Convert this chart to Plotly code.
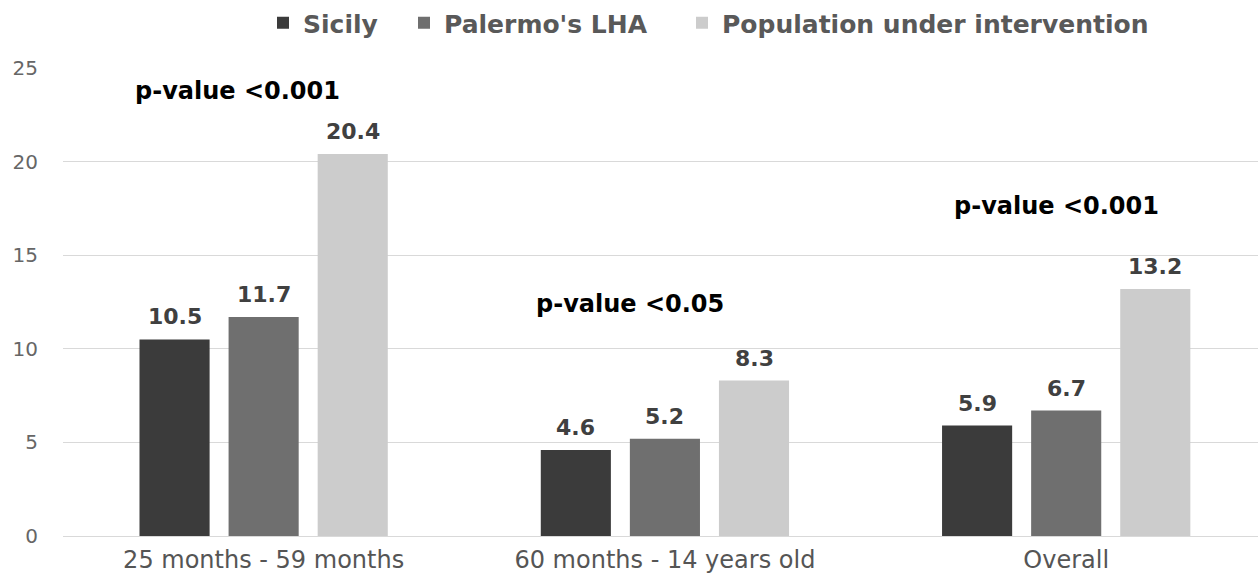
import plotly.graph_objects as go

categories = ["25 months - 59 months", "60 months - 14 years old", "Overall"]
series_names = ["Sicily", "Palermo's LHA", "Population under intervention"]
sicily = [10.5, 4.6, 5.9]
palermo = [11.7, 5.2, 6.7]
population = [20.4, 8.3, 13.2]
colors = ["#3b3b3b", "#6f6f6f", "#cccccc"]

pvalue_labels = ["p-value <0.001", "p-value <0.05", "p-value <0.001"]
pvalue_x = [-0.065, 0.913, 1.976]
pvalue_y = [23.77, 12.42, 17.64]

BARGAP = 0.334
GROUPGAP = 0.213
# width reserved for each legend entry's text, in pixels
legend_widths = [96, 233, 430]

fig = go.Figure()
all_values = [sicily, palermo, population]
for name, vals, col, lw in zip(series_names, all_values, colors, legend_widths):
    fig.add_trace(go.Bar(
        x=categories, y=vals, name=name, legendwidth=lw,
        marker=dict(color=col, line=dict(width=0)),
    ))

# value labels above each bar, placed at the group's slot offset
slot = (1 - BARGAP) / 3
annotations = []
for si, vals in enumerate(all_values):
    for ci, v in enumerate(vals):
        annotations.append(dict(
            x=ci + (si - 1) * slot, y=v, xref="x", yref="y",
            text=f"{v:.1f}", showarrow=False, yanchor="bottom", yshift=8,
            font=dict(family="DejaVu Sans", size=22, color="#404040", weight="bold"),
        ))

for txt, px, py in zip(pvalue_labels, pvalue_x, pvalue_y):
    annotations.append(dict(
        x=px, y=py, xref="x", yref="y", text=txt, showarrow=False,
        xanchor="center", yanchor="middle",
        font=dict(family="DejaVu Sans", size=24, color="#000000", weight="bold"),
    ))

fig.update_layout(
    width=1258, height=577,
    margin=dict(l=63, r=0, t=67, b=41),
    paper_bgcolor="white", plot_bgcolor="white",
    barmode="group", bargap=BARGAP, bargroupgap=GROUPGAP,
    annotations=annotations,
    showlegend=True,
    legend=dict(
        orientation="h", x=(263 - 63) / 1195, xanchor="left",
        y=1 + (67 - 22) / 469, yanchor="middle",
        font=dict(family="DejaVu Sans", size=25, color="#595959", weight="bold"),
        itemwidth=30, tracegroupgap=0, entrywidthmode="pixels",
    ),
    xaxis=dict(
        range=[-0.5, 2.478], showgrid=False, showline=False, ticks="",
        ticklabelstandoff=7, automargin=False,
        tickfont=dict(family="DejaVu Sans", size=24, color="#555555"),
    ),
    yaxis=dict(
        range=[0, 25], dtick=5, showgrid=True, gridcolor="#d9d9d9", gridwidth=1,
        zeroline=True, zerolinecolor="#d9d9d9", zerolinewidth=1,
        showline=False, ticks="", ticklabelstandoff=24, automargin=False,
        tickfont=dict(family="DejaVu Sans", size=20, color="#666666"),
    ),
)

fig.write_html("out.html")
